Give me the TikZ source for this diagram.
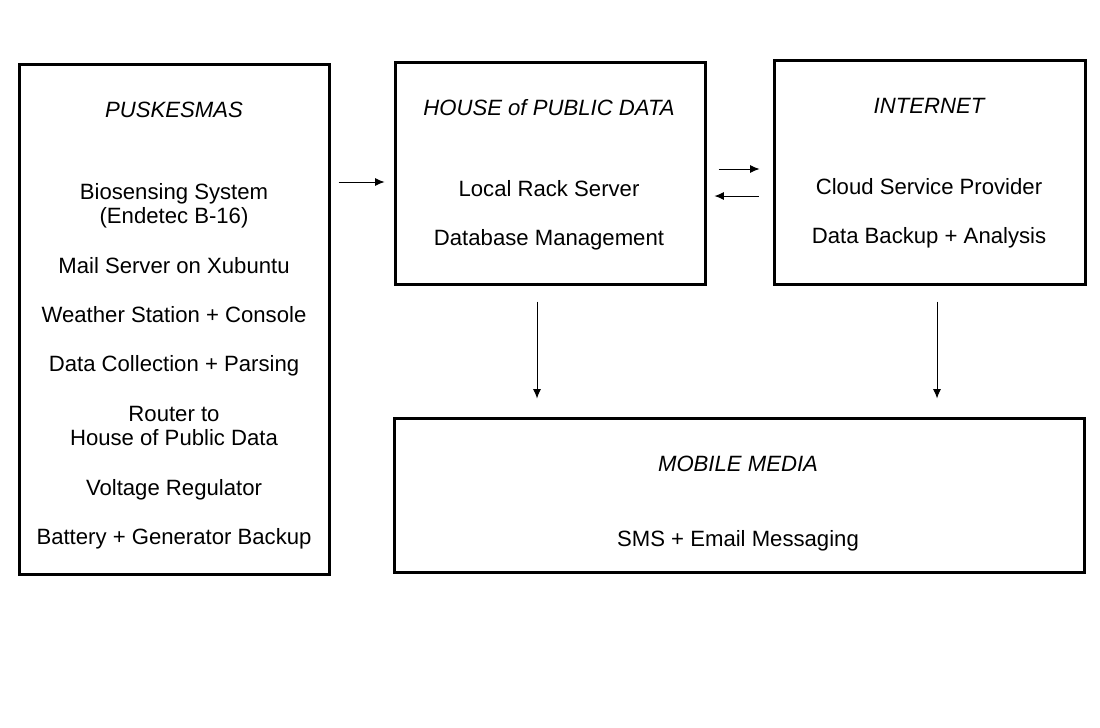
\documentclass[tikz,border=0pt]{standalone}
\usepackage{fontspec}
\setmainfont{Liberation Sans}
\usetikzlibrary{arrows.meta}
\tikzset{
	box/.style={draw, line width=2.25pt, minimum width=#1, inner sep=0pt},
	txt/.style={align=center, font=\fontsize{16.6}{18.5}\selectfont},
	ttl/.style={txt, font=\fontsize{16.6}{18.5}\selectfont\itshape},
	link/.style={line width=0.75pt, -{Latex[length=7pt, width=6pt]}}
}
\begin{document}
\begin{tikzpicture}[x=0.75pt, y=-0.75pt]
			%%%%% START %%%%%
			\useasboundingbox (0, 0) rectangle (1100, 728);
			
			\node[box=232.5pt, minimum height=382.5pt] (pusk) at (174, 319) {};
			\node[box=232.5pt, minimum height=166.5pt] (house) at (550, 173) {};
			\node[box=233.25pt, minimum height=168pt] (inet) at (929.5, 172) {};
			\node[box=517.5pt, minimum height=115.5pt] (mob) at (739, 495) {};
			
			\node[ttl] (puskT) at (174, 110) {PUSKESMAS};
			\node[txt] (puskB) at (174, 366) {Biosensing System\\(Endetec B-16)\\[18.5pt]
				Mail Server on Xubuntu\\[18.5pt]
				Weather Station + Console\\[18.5pt]
				Data Collection + Parsing\\[18.5pt]
				Router to\\House of Public Data\\[18.5pt]
				Voltage Regulator\\[18.5pt]
				Battery + Generator Backup};
			
			\node[ttl] (houseT) at (549, 108) {HOUSE of PUBLIC DATA};
			\node[txt] (houseB) at (549, 215) {Local Rack Server\\[18.5pt]Database Management};
			
			\node[ttl] (inetT) at (929, 106) {INTERNET};
			\node[txt] (inetB) at (929, 213) {Cloud Service Provider\\[18.5pt]Data Backup + Analysis};
			
			\node[ttl] (mobT) at (738, 464) {MOBILE MEDIA};
			\node[txt] (mobB) at (738, 541) {SMS + Email Messaging};
			
			\draw[link, shorten <=6pt, shorten >=6.75pt] (pusk.east |- 0, 182) -- (house.west |- 0, 182);
			\draw[link, shorten <=9pt, shorten >=9.75pt] (house.east |- 0, 169) -- (inet.west |- 0, 169);
			\draw[link, shorten <=10.5pt, shorten >=6pt] (inet.west |- 0, 196) -- (house.east |- 0, 196);
			\draw[link, shorten <=12pt, shorten >=13.5pt] (house.south -| 537, 0) -- (mob.north -| 537, 0);
			\draw[link, shorten <=12pt, shorten >=13.5pt] (inet.south -| 937, 0) -- (mob.north -| 937, 0);
			
			%%%%% END %%%%%
\end{tikzpicture}
\end{document}
